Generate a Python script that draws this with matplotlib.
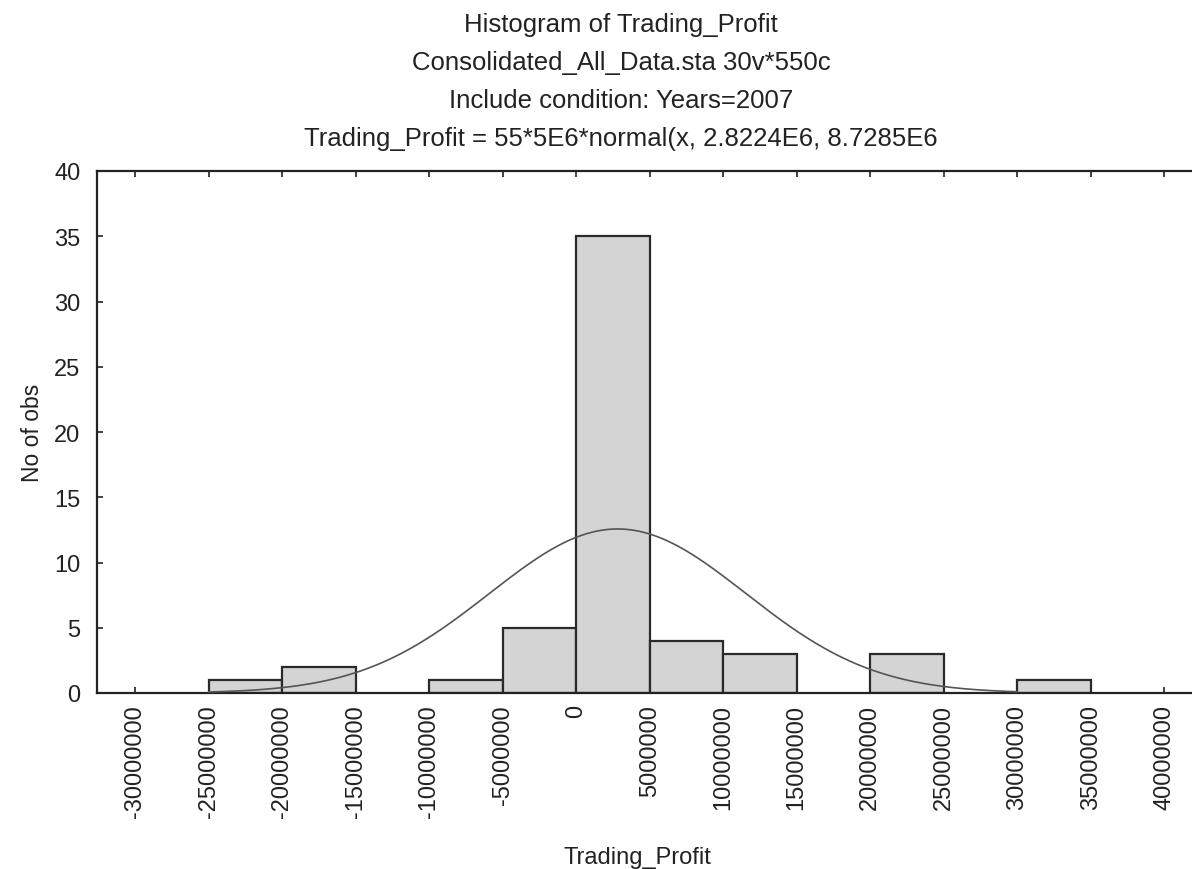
import numpy as np
import matplotlib
matplotlib.use("Agg")
import matplotlib.pyplot as plt

plt.rcParams['font.family'] = ['Liberation Sans', 'DejaVu Sans']

# histogram bins (left edges) and counts
bin_left = [-30e6, -25e6, -20e6, -15e6, -10e6, -5e6, 0, 5e6, 10e6, 15e6, 20e6, 25e6, 30e6, 35e6]
counts = [0, 1, 2, 0, 1, 5, 35, 4, 3, 0, 3, 0, 1, 0]
bin_width = 5e6

# fitted normal from the title
n_obs = 55
mean = 2.8224e6
sd = 8.7285e6

xticks = np.arange(-30e6, 40e6 + 1, 5e6)
yticks = [0, 5, 10, 15, 20, 25, 30, 35, 40]

title_lines = [
    "Histogram of Trading_Profit",
    "Consolidated_All_Data.sta 30v*550c",
    "Include condition: Years=2007",
    "Trading_Profit = 55*5E6*normal(x, 2.8224E6, 8.7285E6",
]

W, H = 1192, 870
fig = plt.figure(figsize=(W / 100, H / 100), dpi=100)
# axes box in pixels: left 97, top 172, bottom 694, runs past right edge
ax = fig.add_axes([97 / W, (H - 694) / H, (1192 - 97) / W, (694 - 172) / H])

# bars
for x0, c in zip(bin_left, counts):
    if c > 0:
        ax.bar(x0, c, width=bin_width, align="edge", color="#d4d4d4",
               edgecolor="#2a2a2a", linewidth=1.6, zorder=2)

# normal curve
xs = np.linspace(-25e6, 30e6, 400)
ys = n_obs * bin_width * np.exp(-0.5 * ((xs - mean) / sd) ** 2) / (sd * np.sqrt(2 * np.pi))
ax.plot(xs, ys, color="#555555", linewidth=1.2, zorder=3)

ax.set_xlim(-32.6e6, 41.9e6)
ax.set_ylim(0, 40)
ax.set_xticks(xticks)
ax.set_xticklabels([f"{int(v)}" for v in xticks], rotation=90, fontsize=17)
ax.set_yticks(yticks)
ax.set_yticklabels([str(v) for v in yticks], fontsize=17)
ax.tick_params(axis="x", direction="in", top=True, length=4, width=1.2, pad=8, colors="#222222")
ax.tick_params(axis="y", direction="in", right=False, length=4, width=1.2, pad=12, colors="#222222")

ax.spines["right"].set_visible(False)
for s in ["left", "top", "bottom"]:
    ax.spines[s].set_linewidth(1.6)
    ax.spines[s].set_color("#222222")

ax.set_ylabel("No of obs", fontsize=16.5, color="#222222", labelpad=7)
fig.text(637 / W, 1 - 858 / H, "Trading_Profit", fontsize=17, color="#222222",
         ha="center", va="center")

for i, line in enumerate(title_lines):
    fig.text(621 / W, 1 - (25 + 38 * i) / H, line, fontsize=18.5, color="#222222",
             ha="center", va="center")

fig.savefig("out.png", dpi=100, facecolor="white")
